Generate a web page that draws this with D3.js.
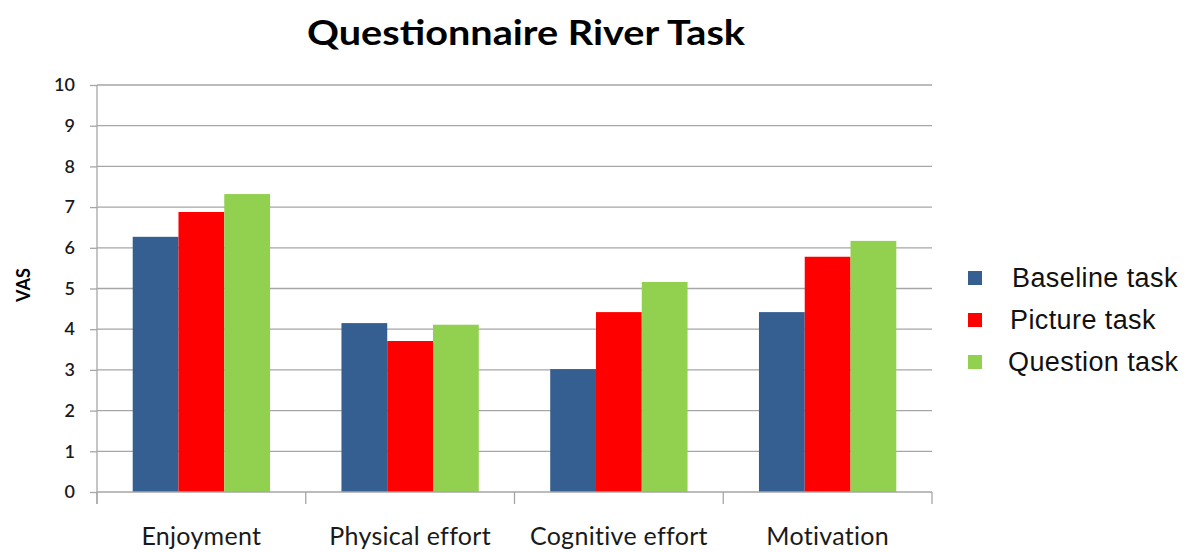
<!DOCTYPE html>
<html>
<head>
<meta charset="utf-8">
<script src="https://d3js.org/d3.v7.min.js"></script>
<style>
  body { margin: 0; background: #fff; }
  svg { display: block; }
</style>
</head>
<body>
<svg id="chart" width="1189" height="552"></svg>
<script>
// data
const categories = ["Enjoyment", "Physical effort", "Cognitive effort", "Motivation"];
const seriesNames = ["Baseline task", "Picture task", "Question task"];
const baseline = [6.27, 4.15, 3.02, 4.42];
const picture = [6.88, 3.71, 4.42, 5.78];
const question = [7.32, 4.11, 5.16, 6.17];
const yTicks = [0, 1, 2, 3, 4, 5, 6, 7, 8, 9, 10];
const colors = ["#365F91", "#FF0000", "#92D050"];

const svg = d3.select("#chart");
const plotLeft = 97, plotRight = 932, plotTop = 85, plotBottom = 492;

const x = d3.scaleBand().domain(categories).range([plotLeft, plotRight]).paddingInner(0).paddingOuter(0);
const xs = d3.scaleBand().domain(seriesNames).range([0, x.bandwidth()]).paddingOuter(0.78).paddingInner(0);
const y = d3.scaleLinear().domain([0, 10]).range([plotBottom, plotTop]);

// gridlines
svg.append("g")
  .selectAll("line")
  .data(yTicks.filter(d => d > 0))
  .join("line")
  .attr("x1", plotLeft).attr("x2", plotRight)
  .attr("y1", d => y(d)).attr("y2", d => y(d))
  .attr("stroke", "#a6a6a6").attr("stroke-width", 1.3);

// y axis
const yAxis = svg.append("g")
  .attr("transform", "translate(" + plotLeft + ",0)")
  .call(d3.axisLeft(y).tickValues(yTicks).tickSize(7).tickPadding(15));
yAxis.select(".domain").attr("stroke", "#a6a6a6").attr("stroke-width", 1.3)
  .attr("d", "M0," + plotTop + "V" + (plotBottom + 12));
yAxis.selectAll(".tick line").attr("stroke", "#a6a6a6").attr("stroke-width", 1.3);
yAxis.selectAll("text").attr("font-family", "Lato, sans-serif").attr("font-size", 18)
  .attr("font-weight", 600).attr("fill", "#1a1a1a");

// bars
const rows = categories.map((c, i) => ({ cat: c, vals: [baseline[i], picture[i], question[i]] }));
svg.append("g")
  .selectAll("g")
  .data(rows)
  .join("g")
  .attr("transform", d => "translate(" + x(d.cat) + ",0)")
  .selectAll("rect")
  .data(d => d.vals.map((v, j) => ({ name: seriesNames[j], v: v, c: colors[j] })))
  .join("rect")
  .attr("x", d => xs(d.name))
  .attr("width", xs.bandwidth())
  .attr("y", d => y(d.v))
  .attr("height", d => plotBottom - y(d.v))
  .attr("fill", d => d.c);

// x axis
const xAxis = svg.append("g")
  .attr("transform", "translate(0," + plotBottom + ")")
  .call(d3.axisBottom(x).tickSize(0).tickPadding(35));
xAxis.select(".domain").attr("stroke", "#a6a6a6").attr("stroke-width", 1.3)
  .attr("d", "M" + plotLeft + ",0H" + plotRight);
xAxis.selectAll("text").attr("font-family", "Lato, sans-serif").attr("font-size", 25)
  .attr("fill", "#1a1a1a").attr("letter-spacing", 0.3);
// category boundary ticks
svg.append("g")
  .selectAll("line")
  .data(categories.concat(["end"]))
  .join("line")
  .attr("x1", (d, i) => i < categories.length ? x(d) : plotRight)
  .attr("x2", (d, i) => i < categories.length ? x(d) : plotRight)
  .attr("y1", plotBottom).attr("y2", plotBottom + 12)
  .attr("stroke", "#a6a6a6").attr("stroke-width", 1.3);

// title
svg.append("text")
  .attr("x", 526).attr("y", 45)
  .attr("text-anchor", "middle")
  .attr("font-family", "Lato, sans-serif").attr("font-weight", "bold").attr("font-size", 34)
  .attr("textLength", 438).attr("lengthAdjust", "spacingAndGlyphs")
  .attr("fill", "#000")
  .text("Questionnaire River Task");

// y axis title
svg.append("text")
  .attr("transform", "translate(30,285) rotate(-90)")
  .attr("text-anchor", "middle")
  .attr("font-family", "Lato, sans-serif").attr("font-weight", "bold").attr("font-size", 18)
  .text("VAS");

// legend
const legend = svg.append("g")
  .selectAll("g")
  .data(seriesNames)
  .join("g")
  .attr("transform", (d, i) => "translate(968," + (278 + i * 42) + ")");
legend.append("rect")
  .attr("x", 0).attr("y", -7).attr("width", 14).attr("height", 14)
  .attr("fill", (d, i) => colors[i]);
legend.append("text")
  .attr("x", (d, i) => [44, 42, 40][i]).attr("y", 9)
  .attr("font-family", "Liberation Sans, Arial, sans-serif").attr("font-size", 27)
  .attr("letter-spacing", 0.4)
  .attr("fill", "#111")
  .text(d => d);
</script>
</body>
</html>
